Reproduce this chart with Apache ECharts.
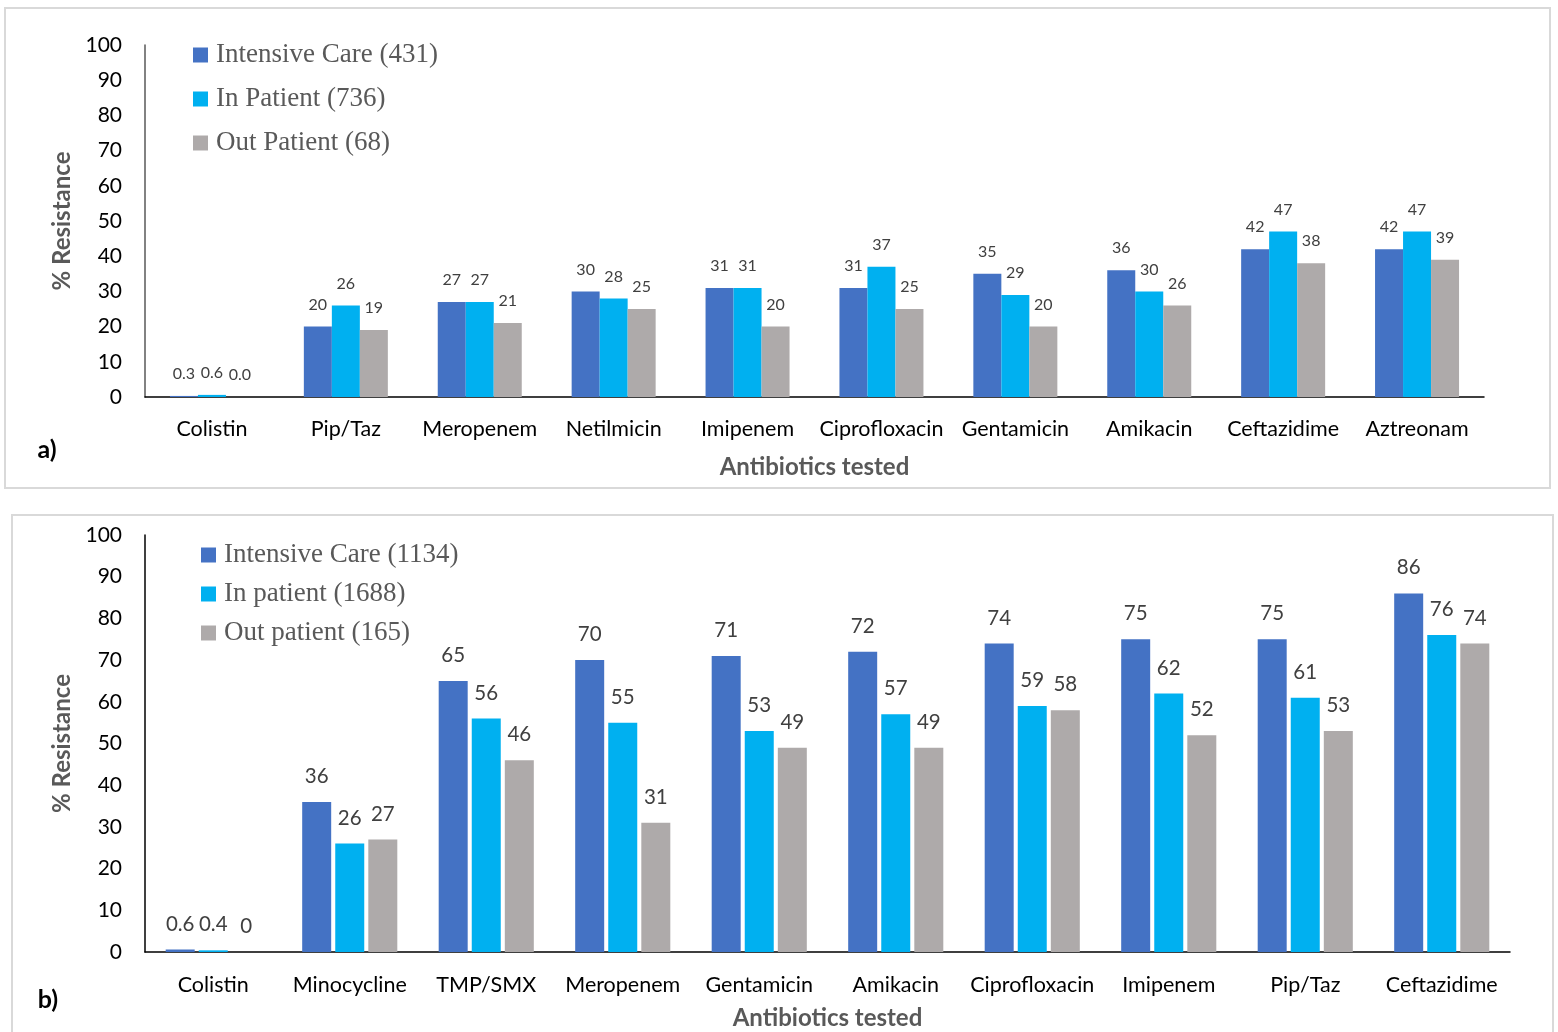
<!DOCTYPE html>
<html>
<head>
<meta charset="utf-8">
<script src="https://cdn.jsdelivr.net/npm/echarts@6/dist/echarts.min.js"></script>
<style>
  html, body { margin: 0; padding: 0; background: #ffffff; }
  #chart { width: 1558px; height: 1032px; }
</style>
</head>
<body>
<div id="chart"></div>
<script>
// Panel a) — resistance by antibiotic, first cohort
const categoriesA = ['Colistin', 'Pip/Taz', 'Meropenem', 'Netilmicin', 'Imipenem', 'Ciprofloxacin', 'Gentamicin', 'Amikacin', 'Ceftazidime', 'Aztreonam'];
const namesA = ['Intensive Care (431)', 'In Patient (736)', 'Out Patient (68)'];
const intensiveA = [0.3, 20, 27, 30, 31, 31, 35, 36, 42, 42];
const inPatientA = [0.6, 26, 27, 28, 31, 37, 29, 30, 47, 47];
const outPatientA = [0.0, 19, 21, 25, 20, 25, 20, 26, 38, 39];

// Panel b) — resistance by antibiotic, second cohort
const categoriesB = ['Colistin', 'Minocycline', 'TMP/SMX', 'Meropenem', 'Gentamicin', 'Amikacin', 'Ciprofloxacin', 'Imipenem', 'Pip/Taz', 'Ceftazidime'];
const namesB = ['Intensive Care (1134)', 'In patient (1688)', 'Out patient (165)'];
const intensiveB = [0.6, 36, 65, 70, 71, 72, 74, 75, 75, 86];
const inPatientB = [0.4, 26, 56, 55, 53, 57, 59, 62, 61, 76];
const outPatientB = [0, 27, 46, 31, 49, 49, 58, 52, 53, 74];

const colors = ['#4472C4', '#00B0F0', '#AEAAAA'];
const sansFont = 'Lato, "Liberation Sans", sans-serif';
const serifFont = '"Liberation Serif", "DejaVu Serif", serif';

function fmtA(p) { return p.value < 1 ? p.value.toFixed(1) : String(p.value); }
function fmtB(p) { return String(p.value); }

function barSeries(name, data, idx, gridIdx, opts) {
  return {
    name: name,
    type: 'bar',
    xAxisIndex: gridIdx,
    yAxisIndex: gridIdx,
    data: data,
    barWidth: opts.barWidth,
    barGap: opts.barGap,
    itemStyle: { color: colors[idx] },
    label: {
      show: true,
      position: 'top',
      distance: opts.labelDistance,
      color: '#404040',
      fontFamily: sansFont,
      fontSize: opts.labelSize,
      formatter: opts.formatter
    }
  };
}

function yAxis(gridIdx, lineColor, nameGap) {
  return {
    type: 'value',
    gridIndex: gridIdx,
    min: 0, max: 100, interval: 10,
    name: '% Resistance',
    nameLocation: 'middle',
    nameGap: nameGap,
    nameTextStyle: { color: '#595959', fontFamily: sansFont, fontSize: 24, fontWeight: 'bold' },
    axisLine: { show: true, lineStyle: { color: lineColor, width: 1.5 } },
    axisTick: { show: false },
    splitLine: { show: false },
    axisLabel: { color: '#000000', fontFamily: sansFont, fontSize: 21, margin: 23 }
  };
}

function xAxis(gridIdx, cats, labelMargin, nameGap) {
  return {
    type: 'category',
    gridIndex: gridIdx,
    data: cats,
    name: 'Antibiotics tested',
    nameLocation: 'middle',
    nameGap: nameGap,
    nameTextStyle: { color: '#595959', fontFamily: sansFont, fontSize: 24, fontWeight: 'bold' },
    axisLine: { show: true, lineStyle: { color: '#000000', width: 1.5 } },
    axisTick: { show: false },
    axisLabel: { color: '#000000', fontFamily: sansFont, fontSize: 21.5, margin: labelMargin, interval: 0 }
  };
}

const optsA = { barWidth: 28, barGap: '0%', labelDistance: 14, labelSize: 16, formatter: fmtA };
const optsB = { barWidth: 29, barGap: '14%', labelDistance: 15, labelSize: 20.5, formatter: fmtB };

const legendText = { color: '#595959', fontFamily: serifFont, fontSize: 27, lineHeight: 28, padding: [0, 0, 0, 3] };

const chart = echarts.init(document.getElementById('chart'), null, { renderer: 'canvas' });

chart.setOption({
  backgroundColor: '#ffffff',
  animation: false,
  graphic: [
    { type: 'rect', shape: { x: 5, y: 8, width: 1545, height: 480 },
      style: { fill: 'none', stroke: '#d9d9d9', lineWidth: 2 }, z: -1 },
    { type: 'rect', shape: { x: 12, y: 515, width: 1541, height: 540 },
      style: { fill: 'none', stroke: '#d9d9d9', lineWidth: 2 }, z: -1 },
    { type: 'text', x: 47, y: 450,
      style: { text: 'a)', fill: '#000000', font: 'bold 25px ' + sansFont, textAlign: 'center', textVerticalAlign: 'middle' } },
    { type: 'text', x: 48, y: 1000,
      style: { text: 'b)', fill: '#000000', font: 'bold 25px ' + sansFont, textAlign: 'center', textVerticalAlign: 'middle' } }
  ],
  legend: [
    {
      data: namesA,
      orient: 'vertical',
      left: 193, top: 41,
      padding: 0,
      itemWidth: 15, itemHeight: 15,
      itemGap: 16,
      icon: 'rect',
      textStyle: legendText
    },
    {
      data: namesB,
      orient: 'vertical',
      left: 201, top: 541,
      padding: 0,
      itemWidth: 15, itemHeight: 15,
      itemGap: 11,
      icon: 'rect',
      textStyle: legendText
    }
  ],
  grid: [
    { left: 145, right: 74, top: 45, bottom: 635 },
    { left: 145, right: 48, top: 535, bottom: 80 }
  ],
  xAxis: [xAxis(0, categoriesA, 21, 58), xAxis(1, categoriesB, 22, 54)],
  yAxis: [yAxis(0, '#595959', 70), yAxis(1, '#000000', 70)],
  series: [
    barSeries(namesA[0], intensiveA, 0, 0, optsA),
    barSeries(namesA[1], inPatientA, 1, 0, optsA),
    barSeries(namesA[2], outPatientA, 2, 0, optsA),
    barSeries(namesB[0], intensiveB, 0, 1, optsB),
    barSeries(namesB[1], inPatientB, 1, 1, optsB),
    barSeries(namesB[2], outPatientB, 2, 1, optsB)
  ]
});
</script>
</body>
</html>
